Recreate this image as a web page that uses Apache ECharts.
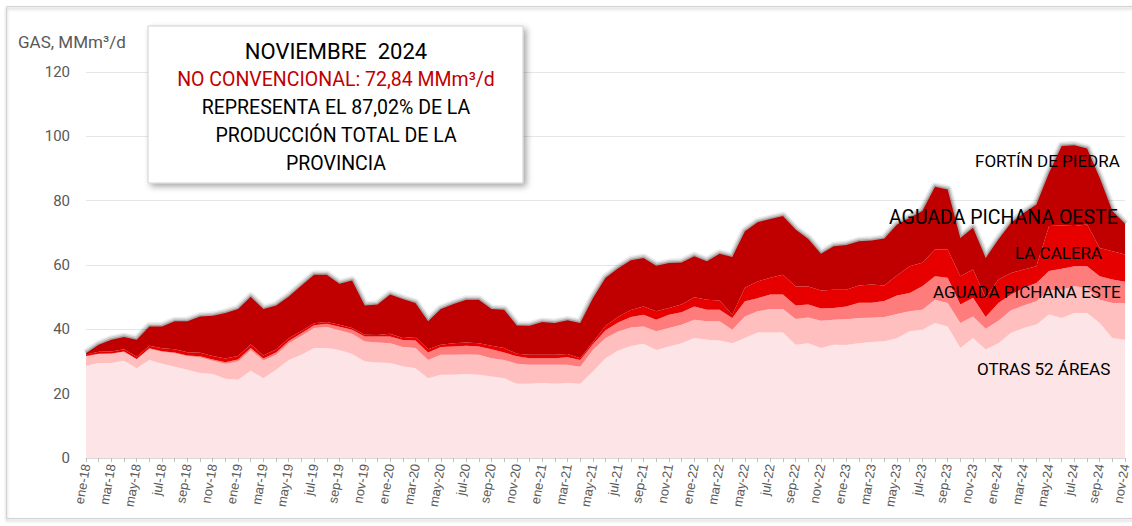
<!DOCTYPE html>
<html>
<head>
<meta charset="utf-8">
<script src="https://cdn.jsdelivr.net/npm/echarts@6/dist/echarts.min.js"></script>
<style>
  html, body { margin: 0; padding: 0; background: #fff; }
  #chart { width: 1132px; height: 526px; }
</style>
</head>
<body>
<div id="chart"></div>
<script>
// meses y años del eje (ene-18 ... nov-24)
const meses = ['ene', 'feb', 'mar', 'abr', 'may', 'jun', 'jul', 'ago', 'sep', 'oct', 'nov', 'dic']
const anios = ['18', '19', '20', '21', '22', '23', '24']
const categorias = []
anios.forEach(a => meses.forEach(m => categorias.push(m + '-' + a)))
categorias.splice(83)

const yTicks = [0, 20, 40, 60, 80, 100, 120]

// producción de gas, MMm3/d
const otras52Areas = [
  28.7, 29.5, 29.5, 30.2, 27.9, 30.5, 29.3, 28.4, 27.4, 26.4, 26.1, 24.6,
  24.3, 27.1, 24.8, 27.4, 30.5, 32.1, 34.2, 34.2, 33.6, 32.3, 30.0, 29.7,
  29.5, 28.5, 27.9, 24.8, 25.9, 25.9, 26.1, 25.9, 25.3, 24.8, 23.1, 23.1,
  23.3, 23.1, 23.3, 23.1, 26.9, 31.0, 33.4, 34.8, 35.5, 33.6, 34.7, 35.7,
  37.3, 36.8, 36.5, 35.7, 37.3, 39.0, 39.0, 39.0, 35.2, 35.7, 34.2, 35.2,
  35.1, 35.7, 36.1, 36.3, 37.2, 39.4, 39.9, 42.0, 40.9, 34.2, 37.3, 33.7,
  35.7, 38.9, 40.4, 41.5, 44.6, 43.5, 45.1, 45.1, 42.0, 37.3, 36.8
]
const aguadaPichanaEste = [
  2.9, 2.8, 2.9, 2.8, 2.8, 3.4, 3.7, 4.2, 4.2, 4.9, 4.1, 4.7,
  5.7, 6.5, 5.5, 4.7, 5.2, 5.9, 6.2, 6.5, 6.1, 6.3, 6.2, 6.2,
  6.2, 6.0, 6.3, 5.7, 6.2, 6.2, 6.1, 6.2, 5.7, 5.7, 6.2, 5.9,
  5.7, 5.9, 5.7, 5.3, 6.7, 6.3, 5.9, 5.8, 5.4, 5.8, 5.7, 5.7,
  5.7, 5.7, 6.0, 4.2, 6.7, 6.6, 7.3, 7.3, 8.0, 8.0, 8.5, 7.8,
  8.0, 7.8, 7.5, 7.5, 7.6, 6.2, 6.2, 7.2, 7.3, 7.8, 6.7, 6.5,
  7.0, 7.0, 7.0, 7.2, 7.5, 8.8, 8.3, 7.8, 7.2, 10.9, 11.4
]
const laCalera = [
  0.1, 0.1, 0.1, 0.1, 0.1, 0.2, 0.2, 0.2, 0.3, 0.3, 0.4, 0.5,
  0.6, 0.6, 0.6, 0.7, 0.7, 0.8, 0.9, 1.0, 1.1, 1.3, 1.6, 1.9,
  2.1, 2.2, 2.3, 2.3, 2.4, 2.6, 2.7, 2.6, 2.8, 2.3, 2.3, 2.0,
  2.0, 2.0, 2.3, 2.1, 1.8, 2.4, 2.8, 3.2, 3.6, 3.6, 4.1, 3.9,
  4.1, 3.6, 3.6, 3.6, 4.7, 4.1, 4.5, 4.5, 4.2, 4.0, 3.8, 3.6,
  4.0, 4.8, 4.7, 5.0, 5.7, 5.7, 7.3, 7.3, 7.8, 5.7, 5.8, 3.6,
  5.5, 4.9, 5.5, 5.7, 6.0, 6.5, 6.2, 6.7, 7.3, 7.3, 6.6
]
const aguadaPichanaOeste = [
  0.5, 0.6, 0.6, 0.7, 0.7, 0.8, 0.9, 1.0, 1.0, 1.1, 1.1, 1.1,
  1.1, 1.1, 1.0, 0.9, 0.8, 0.7, 0.6, 0.6, 0.6, 0.5, 0.5, 0.4,
  0.8, 0.6, 1.1, 1.0, 0.7, 1.0, 1.0, 1.0, 1.1, 1.4, 0.8, 1.1,
  1.1, 1.1, 1.0, 0.5, 0.6, 1.3, 1.8, 2.2, 2.6, 2.6, 2.1, 2.4,
  2.9, 3.1, 2.9, 1.0, 4.2, 5.2, 5.2, 6.2, 5.9, 5.6, 5.6, 5.7,
  5.2, 5.3, 5.6, 4.8, 6.2, 8.3, 7.3, 8.3, 8.8, 8.8, 8.8, 6.0,
  7.3, 6.7, 5.7, 5.2, 14.0, 13.5, 12.5, 13.0, 8.8, 8.8, 8.5
]
const fortinDePiedra = [
  0.4, 2.2, 3.7, 3.8, 5.3, 6.0, 6.8, 8.7, 9.6, 11.3, 12.5, 14.2,
  14.6, 14.8, 14.4, 13.7, 13.0, 14.1, 15.1, 14.7, 12.8, 14.8, 9.1, 9.5,
  12.2, 12.1, 10.6, 8.7, 11.1, 12.2, 13.3, 13.5, 11.4, 11.9, 8.8, 9.0,
  10.2, 9.9, 10.5, 11.0, 13.7, 15.0, 15.1, 15.5, 15.1, 14.2, 14.0, 13.1,
  12.7, 12.0, 14.5, 18.0, 17.6, 18.4, 18.3, 18.2, 17.7, 14.8, 11.4, 13.5,
  13.9, 13.8, 13.7, 14.6, 15.9, 15.1, 16.1, 19.5, 18.7, 11.9, 13.0, 12.4,
  12.4, 15.6, 17.6, 19.2, 16.6, 24.7, 25.1, 23.6, 21.8, 12.5, 9.5
]

// total de la pila, solo para el halo gris del borde superior
const total = otras52Areas.map((v, i) =>
  +(v + aguadaPichanaEste[i] + laCalera[i] + aguadaPichanaOeste[i] + fortinDePiedra[i]).toFixed(1))

const chart = echarts.init(document.getElementById('chart'), null, { renderer: 'svg' })

function area(name, data, color) {
  return {
    name: name,
    type: 'line',
    stack: 'gas',
    data: data,
    symbol: 'none',
    lineStyle: { width: 0 },
    itemStyle: { color: color },
    areaStyle: { color: color, opacity: 1 },
    emphasis: { disabled: true },
    silent: true,
    z: 3
  }
}

function halo(width, alpha) {
  return {
    type: 'line',
    data: total,
    symbol: 'none',
    lineStyle: { width: width, color: 'rgba(0,0,0,' + alpha + ')', join: 'round' },
    emphasis: { disabled: true },
    silent: true,
    z: 1
  }
}

function texto(text, x, y, size, color, align) {
  return {
    type: 'text',
    z: 120,
    silent: true,
    style: {
      text: text, x: x, y: y,
      font: size + 'px Roboto',
      fill: color || '#000',
      align: align || 'left', verticalAlign: 'middle',
      textAlign: align || 'left', textVerticalAlign: 'middle'
    }
  }
}

const option = {
  animation: false,
  backgroundColor: '#fff',
  textStyle: { fontFamily: 'Roboto' },
  grid: { left: 86, right: 5, top: 72, bottom: 68, containLabel: false },
  xAxis: {
    type: 'category',
    boundaryGap: false,
    data: categorias,
    axisLine: { lineStyle: { color: '#d9d9d9' } },
    axisTick: { show: true, interval: 0, length: 4, lineStyle: { color: '#bfbfbf' } },
    axisLabel: {
      interval: 1, rotate: 80, margin: 6,
      color: '#595959', fontSize: 13, fontFamily: 'Liberation Sans'
    }
  },
  yAxis: {
    type: 'value',
    min: yTicks[0], max: yTicks[yTicks.length - 1], interval: 20,
    axisLine: { show: false },
    axisTick: { show: false },
    axisLabel: { color: '#595959', fontSize: 15, margin: 16 },
    splitLine: { lineStyle: { color: '#e6e6e6' } }
  },
  series: [
    halo(9, 0.07),
    halo(6, 0.12),
    halo(3, 0.2),
    area('OTRAS 52 ÁREAS', otras52Areas, '#fde4e6'),
    area('AGUADA PICHANA ESTE', aguadaPichanaEste, '#ffbfbf'),
    area('LA CALERA', laCalera, '#ff7c7c'),
    area('AGUADA PICHANA OESTE', aguadaPichanaOeste, '#e60000'),
    area('FORTÍN DE PIEDRA', fortinDePiedra, '#c00000')
  ],
  graphic: [
    {
      type: 'rect', z: -5, silent: true,
      shape: { x: 6.5, y: 6.5, width: 1200, height: 512 },
      style: { fill: 'none', stroke: '#d4d4d4', lineWidth: 1, shadowBlur: 3, shadowOffsetY: 2, shadowColor: 'rgba(0,0,0,0.3)' }
    },
    {
      type: 'rect', z: 110, silent: true,
      shape: { x: 148, y: 26, width: 375, height: 157 },
      style: { fill: '#fff', stroke: '#d0d0d0', lineWidth: 1, shadowBlur: 6, shadowOffsetX: 3, shadowOffsetY: 3, shadowColor: 'rgba(0,0,0,0.35)' }
    },
    texto('NOVIEMBRE  2024', 336, 51, 22, '#000', 'center'),
    texto('NO CONVENCIONAL: 72,84 MMm³/d', 336, 79, 19.5, '#c00000', 'center'),
    texto('REPRESENTA EL 87,02% DE LA', 336, 107, 19.5, '#000', 'center'),
    texto('PRODUCCIÓN TOTAL DE LA', 336, 135, 19.5, '#000', 'center'),
    texto('PROVINCIA', 336, 163, 19.5, '#000', 'center'),
    texto('GAS, MMm³/d', 18, 42, 17, '#595959'),
    texto('FORTÍN DE PIEDRA', 975, 161, 17, '#000'),
    texto('AGUADA PICHANA OESTE', 889, 217, 19.5, '#000'),
    texto('LA CALERA', 1015, 253, 17, '#000'),
    texto('AGUADA PICHANA ESTE', 933, 292, 17, '#000'),
    texto('OTRAS 52 ÁREAS', 977, 369, 17, '#000')
  ]
}

chart.setOption(option)
</script>
</body>
</html>
